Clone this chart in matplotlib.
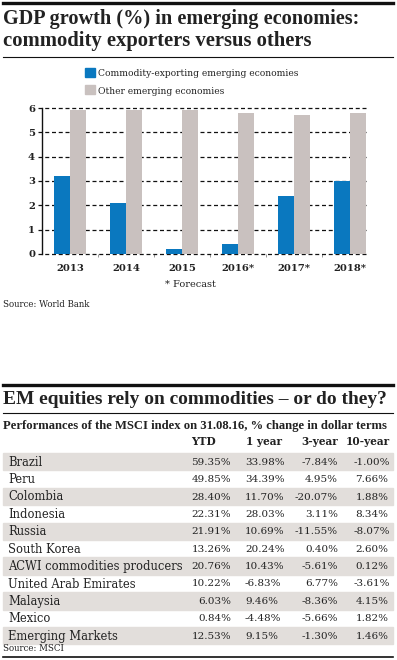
import matplotlib
matplotlib.use("Agg")
import matplotlib.pyplot as plt
from matplotlib.lines import Line2D
from matplotlib.patches import Rectangle

# ---------------- data ----------------
years = ['2013', '2014', '2015', '2016*', '2017*', '2018*']
commodity_exporters = [3.2, 2.1, 0.2, 0.4, 2.4, 3.0]
other_emerging = [5.9, 5.9, 5.9, 5.8, 5.7, 5.8]
y_ticks = [0, 1, 2, 3, 4, 5, 6]

countries = ['Brazil', 'Peru', 'Colombia', 'Indonesia', 'Russia', 'South Korea',
             'ACWI commodities producers', 'United Arab Emirates', 'Malaysia',
             'Mexico', 'Emerging Markets']
ytd = [59.35, 49.85, 28.40, 22.31, 21.91, 13.26, 20.76, 10.22, 6.03, 0.84, 12.53]
one_year = [33.98, 34.39, 11.70, 28.03, 10.69, 20.24, 10.43, -6.83, 9.46, -4.48, 9.15]
three_year = [-7.84, 4.95, -20.07, 3.11, -11.55, 0.40, -5.61, 6.77, -8.36, -5.66, -1.30]
ten_year = [-1.00, 7.66, 1.88, 8.34, -8.07, 2.60, 0.12, -3.61, 4.15, 1.82, 1.46]
col_headers = ['YTD', '1 year', '3-year', '10-year']

# ---------------- styles ----------------
BLUE = '#0a78bf'
GREY = '#c9c1bf'
SHADE = '#e2dedb'
SERIF = ['DejaVu Serif']
TSERIF = ['Liberation Serif', 'DejaVu Serif']

W, H = 397, 660
fig = plt.figure(figsize=(W / 100, H / 100), dpi=100)
renderer = fig.canvas.get_renderer()


def fx(x):
    return x / W


def fy(y):
    return 1 - y / H


def hline(y, lw, x0=3, x1=393):
    fig.add_artist(Line2D([fx(x0), fx(x1)], [fy(y), fy(y)], lw=lw, color='#111111'))


def txt(x, y, s, size, weight='normal', ha='left', va='baseline', color='#222222',
        family=SERIF, width=None):
    t = fig.text(fx(x), fy(y), s, fontsize=size, fontweight=weight, ha=ha, va=va,
                 color=color, family=family)
    if width is not None:
        bb = t.get_window_extent(renderer=renderer)
        t.set_fontsize(size * width / bb.width)
    return t


# ---------------- top chart ----------------
hline(3, 2.4)
txt(3, 24, 'GDP growth (%) in emerging economies:', 14, 'bold', family=TSERIF, width=357)
txt(3, 46, 'commodity exporters versus others', 14, 'bold', family=TSERIF, width=309)
hline(57, 0.8)

# legend
fig.add_artist(Rectangle((fx(85), fy(77)), fx(10), 9 / H, color=BLUE, transform=fig.transFigure))
fig.add_artist(Rectangle((fx(85), fy(94)), fx(10), 9 / H, color=GREY, transform=fig.transFigure))
txt(98, 76, 'Commodity-exporting emerging economies', 6.6)
txt(98, 94, 'Other emerging economies', 6.6)

ax = fig.add_axes([fx(42), fy(254), (367 - 42) / W, (254 - 108) / H])
x = list(range(len(years)))
bw = 0.285
ax.bar([i - bw / 2 for i in x], commodity_exporters, width=bw, color=BLUE, zorder=3)
ax.bar([i + bw / 2 for i in x], other_emerging, width=bw, color=GREY, zorder=3)
ax.set_xlim(-0.5, 5.3)
ax.set_ylim(0, 6)
for t in y_ticks:
    ax.plot([-0.57, 5.3], [t, t], color='#111111', lw=0.9, ls=(0, (3.2, 2.2)),
            clip_on=False, zorder=2)
for s in ['top', 'right', 'bottom']:
    ax.spines[s].set_visible(False)
ax.spines['left'].set_linewidth(1.0)
ax.spines['left'].set_color('#111111')
ax.set_yticks(y_ticks)
ax.set_yticklabels([str(t) for t in y_ticks], fontsize=7.2, fontweight='bold',
                   family=SERIF, color='#222222')
ax.tick_params(axis='y', length=0, pad=5)
ax.set_xticks(x)
ax.set_xticklabels(years, fontsize=7.2, fontweight='bold', family=SERIF, color='#222222')
ax.tick_params(axis='x', length=0, pad=7)
ax.set_xticks([i + 0.5 for i in x[:-1]], minor=True)
ax.tick_params(axis='x', which='minor', length=2, color='#888888', width=0.6)
ax.patch.set_alpha(0)

txt(190, 287, '* Forecast', 7.0, ha='center')
txt(3, 307, 'Source: World Bank', 6.2)

# ---------------- table ----------------
hline(385, 2.4)
txt(3, 404, 'EM equities rely on commodities \u2013 or do they?', 14, 'bold',
    family=TSERIF, width=385)
hline(413, 0.8)
txt(3, 429, 'Performances of the MSCI index on 31.08.16, % change in dollar terms', 9,
    'bold', family=TSERIF, width=385)

hdr_y = 445
txt(203, hdr_y, col_headers[0], 7.6, 'bold', ha='center')
txt(264, hdr_y, col_headers[1], 7.6, 'bold', ha='center')
txt(320, hdr_y, col_headers[2], 7.6, 'bold', ha='center')
txt(368, hdr_y, col_headers[3], 7.6, 'bold', ha='center')

top = 453
rh = 17.4
NUM = 7.5
for i, name in enumerate(countries):
    y0 = top + i * rh
    if i % 2 == 0:
        fig.add_artist(Rectangle((fx(3), fy(y0 + rh)), fx(390), rh / H, color=SHADE,
                                 transform=fig.transFigure, zorder=0))
    yc = y0 + rh / 2 + 0.5
    txt(8, yc, name, 8.3, va='center')
    txt(231, yc, f'{ytd[i]:.2f}%', NUM, ha='right', va='center')
    txt(245, yc, f'{one_year[i]:.2f}%', NUM, ha='left', va='center')
    txt(338, yc, f'{three_year[i]:.2f}%', NUM, ha='right', va='center')
    txt(372, yc, f'{ten_year[i]:.2f}%', NUM, ha='center', va='center')

txt(3, 651, 'Source: MSCI', 6.2)
hline(657, 1.2)

fig.savefig('out.png', dpi=100)
